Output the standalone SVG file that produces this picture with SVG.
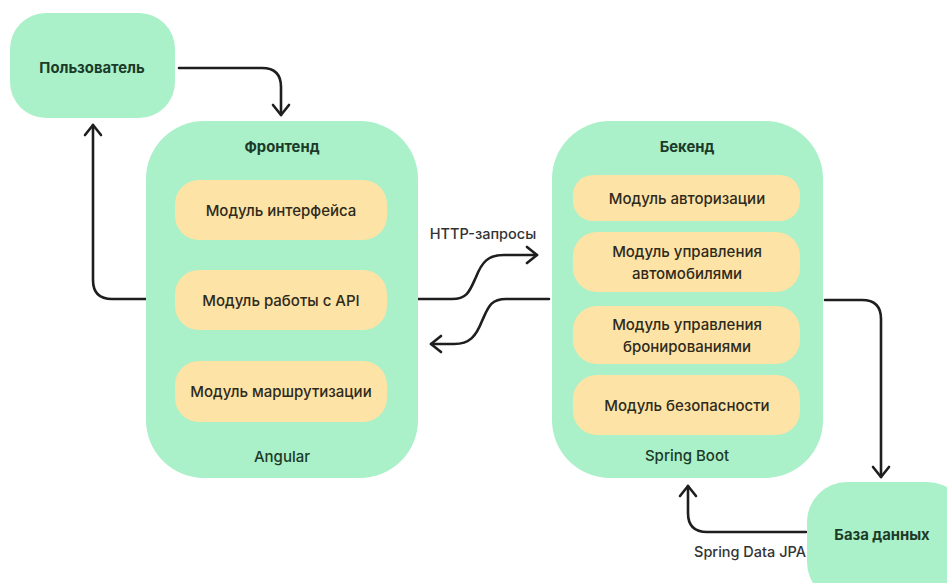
<svg xmlns="http://www.w3.org/2000/svg" width="947" height="583" viewBox="0 0 947 583">
<defs>
<style>
.g{fill:#aaf0c8}
.y{fill:#fde3a5}
.t{font-family:Inter,"Liberation Sans",sans-serif;font-size:15px;font-weight:500;fill:#2e2a1c;text-anchor:middle;dominant-baseline:central}
.b{font-family:Inter,"Liberation Sans",sans-serif;font-size:14.8px;font-weight:700;fill:#1c3a28;text-anchor:middle;dominant-baseline:central}
.s{font-family:Inter,"Liberation Sans",sans-serif;font-size:15px;font-weight:500;fill:#1c3a28;text-anchor:middle;dominant-baseline:central}
.l{font-family:Inter,"Liberation Sans",sans-serif;font-size:14.5px;font-weight:500;fill:#333;text-anchor:middle;dominant-baseline:central}
.c{fill:none;stroke:#1e1e1e;stroke-width:2.6;stroke-linecap:round;stroke-linejoin:round}
</style>
<marker id="a" viewBox="0 0 20 20" refX="18" refY="10" markerWidth="20" markerHeight="20" markerUnits="userSpaceOnUse" orient="auto">
<path d="M8,2 L18,10 L8,18" fill="none" stroke="#1e1e1e" stroke-width="2.6" stroke-linecap="round" stroke-linejoin="round"/>
</marker>
</defs>
<rect width="947" height="583" fill="#ffffff"/>
<g id="connectors">
<path class="c" d="M179,68 H262 Q281,68 281,87 V115" marker-end="url(#a)"/>
<path class="c" d="M146,299 H112 Q93,299 93,280 V125" marker-end="url(#a)"/>
<path class="c" d="M418,299 H452 C468,299 470,290 476,277 C482,262 488,255 504,255 H537" marker-end="url(#a)"/>
<path class="c" d="M549,299 H506 C490,299 488,308 482,321 C476,336 470,344 454,344 H431" marker-end="url(#a)"/>
<path class="c" d="M825,300 H862 Q881,300 881,319 V477" marker-end="url(#a)"/>
<path class="c" d="M806,532 H707 Q688,532 688,513 V486" marker-end="url(#a)"/>
</g>
<g id="user">
<rect class="g" x="10" y="13" width="165" height="105" rx="36"/>
<text class="b" x="92" y="68">Пользователь</text>
</g>
<g id="frontend">
<rect class="g" x="146" y="121" width="272" height="357" rx="58"/>
<text class="b" x="282" y="147">Фронтенд</text>
<g id="fe-ui"><rect class="y" x="175" y="180" width="212" height="60" rx="24"/><text class="t" x="281" y="210">Модуль интерфейса</text></g>
<g id="fe-api"><rect class="y" x="175" y="270" width="212" height="60" rx="24"/><text class="t" x="281" y="300">Модуль работы с API</text></g>
<g id="fe-route"><rect class="y" x="175" y="361" width="212" height="61" rx="24"/><text class="t" x="281" y="391">Модуль маршрутизации</text></g>
<text class="s" x="282" y="456">Angular</text>
</g>
<g id="backend">
<rect class="g" x="552" y="121" width="271" height="357" rx="58"/>
<text class="b" x="687" y="147">Бекенд</text>
<g id="be-auth"><rect class="y" x="573" y="175" width="227" height="46" rx="20"/><text class="t" x="687" y="198">Модуль авторизации</text></g>
<g id="be-cars"><rect class="y" x="573" y="232" width="227" height="60" rx="24"/><text class="t" x="687" y="251">Модуль управления</text><text class="t" x="687" y="273">автомобилями</text></g>
<g id="be-book"><rect class="y" x="573" y="306" width="227" height="58" rx="24"/><text class="t" x="687" y="324">Модуль управления</text><text class="t" x="687" y="346">бронированиями</text></g>
<g id="be-sec"><rect class="y" x="573" y="375" width="227" height="60" rx="24"/><text class="t" x="687" y="405">Модуль безопасности</text></g>
<text class="s" x="687" y="455">Spring Boot</text>
</g>
<g id="db">
<rect class="g" x="807" y="482" width="160" height="120" rx="40"/>
<text class="b" x="882" y="535">База данных</text>
</g>
<g id="labels">
<text class="l" x="483" y="233">HTTP-запросы</text>
<text class="l" x="750" y="551">Spring Data JPA</text>
</g>
</svg>
